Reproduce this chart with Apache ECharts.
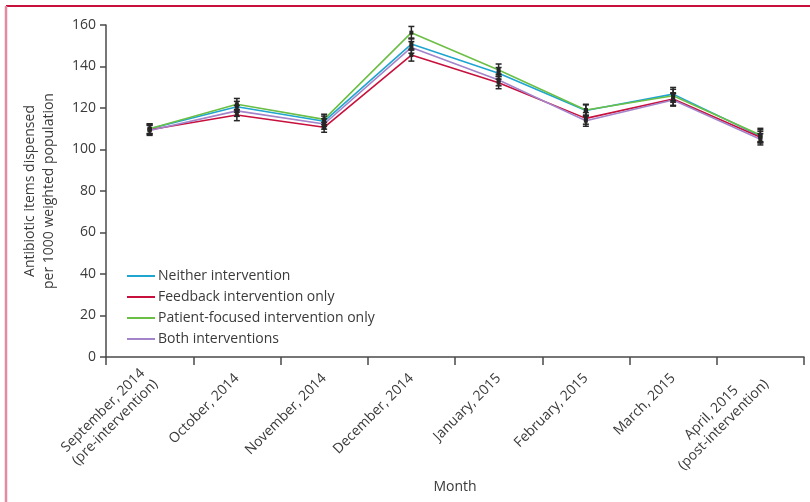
<!DOCTYPE html>
<html>
<head>
<meta charset="utf-8">
<script src="https://cdn.jsdelivr.net/npm/echarts@6/dist/echarts.min.js"></script>
<style>
html,body{margin:0;padding:0;background:#fff;}
#chart{width:810px;height:502px;}
</style>
</head>
<body>
<div id="chart"></div>
<script>
const categories = [
  'September, 2014\n(pre-intervention)', 'October, 2014', 'November, 2014', 'December, 2014',
  'January, 2015', 'February, 2015', 'March, 2015', 'April, 2015\n(post-intervention)'
];
const yTicks = [0, 20, 40, 60, 80, 100, 120, 140, 160];
const seriesNames = ['Neither intervention', 'Feedback intervention only', 'Patient-focused intervention only', 'Both interventions'];

const neither  = [110.0, 120.6, 113.6, 150.8, 136.7, 118.8, 126.7, 106.5];
const feedback = [109.5, 116.6, 110.7, 145.5, 132.2, 115.0, 124.3, 105.9];
const patient  = [110.0, 121.8, 114.5, 156.3, 138.3, 119.0, 125.9, 107.0];
const both     = [109.2, 118.6, 112.3, 149.2, 133.5, 113.9, 123.9, 104.9];

const errNeither  = [2.4, 2.6, 2.5, 2.9, 2.8, 2.7, 3.2, 3.0];
const errFeedback = [2.3, 2.7, 2.4, 2.9, 2.9, 2.8, 3.0, 2.8];
const errPatient  = [2.3, 2.8, 2.5, 3.0, 2.9, 2.8, 3.1, 3.2];
const errBoth     = [2.4, 2.6, 2.5, 2.8, 2.8, 2.7, 3.0, 2.7];

const colors = ['#1ea5d2', '#c8103c', '#6cbf46', '#a383c9'];
const values = [neither, feedback, patient, both];
const errors = [errNeither, errFeedback, errPatient, errBoth];

const FONT = 'Open Sans';
const TXT = '#3a3a3a';
const AX = '#4a4a4a';

const lineSeries = seriesNames.map((n, k) => ({
  name: n, type: 'line', data: values[k], symbol: 'none',
  lineStyle: {color: colors[k], width: 1.6}, itemStyle: {color: colors[k]}, z: 2
}));

const errSeries = values.map((vals, k) => ({
  name: 'err' + k, type: 'custom', z: 5,
  data: vals.map((v, i) => [i, v - errors[k][i], v + errors[k][i], v]),
  renderItem: function (params, api) {
    const i = api.value(0);
    const lo = api.coord([i, api.value(1)]);
    const hi = api.coord([i, api.value(2)]);
    const mid = api.coord([i, api.value(3)]);
    const w = 3;
    const st = {stroke: '#262626', lineWidth: 1.5};
    return {type: 'group', children: [
      {type: 'line', shape: {x1: lo[0], y1: lo[1], x2: hi[0], y2: hi[1]}, style: st},
      {type: 'line', shape: {x1: lo[0] - w, y1: lo[1], x2: lo[0] + w, y2: lo[1]}, style: st},
      {type: 'line', shape: {x1: hi[0] - w, y1: hi[1], x2: hi[0] + w, y2: hi[1]}, style: st},
      {type: 'rect', shape: {x: mid[0] - 2, y: mid[1] - 2, width: 4, height: 4}, style: {fill: '#262626'}}
    ]};
  }
}));

const chart = echarts.init(document.getElementById('chart'), null, {renderer: 'canvas'});
chart.setOption({
  animation: false,
  backgroundColor: '#fff',
  textStyle: {fontFamily: FONT},
  graphic: [
    {type: 'line', shape: {x1: 6, y1: 6, x2: 810, y2: 6}, style: {stroke: '#c8103c', lineWidth: 2}},
    {type: 'line', shape: {x1: 6, y1: 6, x2: 6, y2: 502}, style: {stroke: '#e48aa3', lineWidth: 2.5}}
  ],
  grid: {left: 106, right: 6, top: 25, bottom: 145, containLabel: false},
  legend: {
    orient: 'vertical', left: 122, top: 264, itemGap: 7,
    data: seriesNames, icon: 'rect', itemWidth: 28, itemHeight: 2,
    textStyle: {fontFamily: FONT, fontSize: 14, color: TXT, padding: [0, 0, 0, -2]}
  },
  xAxis: {
    type: 'category', data: categories, boundaryGap: true,
    name: 'Month', nameLocation: 'middle', nameGap: 122,
    nameTextStyle: {fontFamily: FONT, fontSize: 14, color: TXT},
    axisLine: {lineStyle: {color: AX, width: 1.5}},
    axisTick: {show: true, length: 8, lineStyle: {color: AX, width: 1.5}},
    axisLabel: {
      rotate: 45, margin: 19, interval: 0, color: TXT, fontFamily: FONT, fontSize: 14,
      formatter: function (v) { return v.split('\n').map(s => '{a|' + s + '}').join('\n'); },
      rich: {a: {align: 'center', fontFamily: FONT, fontSize: 14, color: TXT, lineHeight: 17}}
    }
  },
  yAxis: {
    type: 'value', min: 0, max: 160, interval: 20,
    name: 'Antibiotic items dispensed\nper 1000 weighted population',
    nameLocation: 'middle', nameGap: 47, nameRotate: 90,
    nameTextStyle: {fontFamily: FONT, fontSize: 14, color: TXT, lineHeight: 19},
    axisLine: {show: true, lineStyle: {color: AX, width: 1.5}},
    axisTick: {show: true, length: 6, lineStyle: {color: AX, width: 1.5}},
    axisLabel: {color: TXT, fontFamily: FONT, fontSize: 14, margin: 10,
      formatter: v => yTicks.includes(v) ? String(v) : ''},
    splitLine: {show: false}
  },
  series: lineSeries.concat(errSeries)
});
</script>
</body>
</html>
